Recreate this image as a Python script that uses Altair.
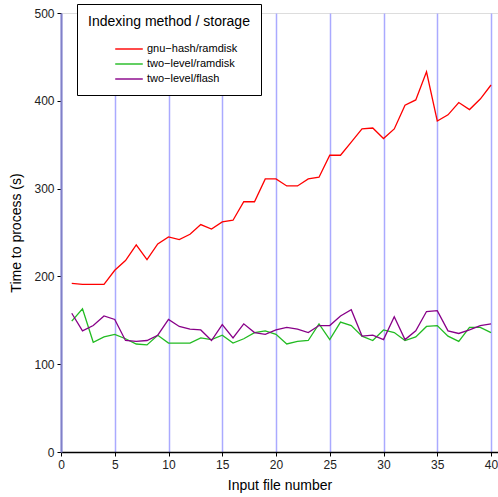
import altair as alt
import pandas as pd

x_values = list(range(1, 41))
gnu_hash_ramdisk = [192, 191, 191, 191, 207, 218, 236, 219, 237, 245,
                    242, 248, 259, 254, 262, 264, 285, 285, 311, 311,
                    303, 303, 311, 313, 338, 338, 353, 368, 369, 357,
                    368, 395, 401, 433, 377, 384, 398, 390, 402, 418]
two_level_ramdisk = [149, 163, 125, 131, 134, 129, 123, 122, 133, 124,
                     124, 124, 130, 128, 133, 124, 129, 136, 138, 134,
                     123, 126, 127, 146, 128, 148, 144, 132, 127, 139,
                     136, 127, 131, 143, 144, 132, 126, 142, 142, 136]
two_level_flash = [158, 138, 144, 155, 151, 127, 126, 127, 133, 151,
                   143, 140, 139, 127, 145, 130, 146, 136, 134, 139,
                   142, 140, 136, 144, 144, 155, 162, 132, 133, 128,
                   154, 128, 138, 160, 161, 138, 135, 139, 144, 146]
series_names = ["gnu\u2212hash/ramdisk", "two\u2212level/ramdisk", "two\u2212level/flash"]
series_colors = ["#ff0000", "#22bb22", "#880088"]
x_ticks = [0, 5, 10, 15, 20, 25, 30, 35, 40]
y_ticks = [0, 100, 200, 300, 400, 500]

rows = []
for name, vals in zip(series_names, [gnu_hash_ramdisk, two_level_ramdisk, two_level_flash]):
    for xv, yv in zip(x_values, vals):
        rows.append({"file": xv, "time": yv, "series": name})
df = pd.DataFrame(rows)

FONT = "Liberation Sans"

chart = alt.Chart(df).mark_line(strokeWidth=1.3, clip=True).encode(
    x=alt.X("file:Q", title="Input file number",
            scale=alt.Scale(domain=[0, 40.65], nice=False, zero=False),
            axis=alt.Axis(values=x_ticks, grid=True, gridColor="#aaaaff", gridWidth=1.5,
                          gridOpacity=1, domainColor="#000000", domainWidth=1.5,
                          tickColor="#000000", tickSize=4, labelFontSize=12,
                          labelColor="#222222", titleFontSize=14, titleFontWeight="normal",
                          titleColor="#000000", labelPadding=3, titlePadding=8,
                          labelFont=FONT, titleFont=FONT, labelFlush=False)),
    y=alt.Y("time:Q", title="Time to process (s)",
            scale=alt.Scale(domain=[0, 500], nice=False),
            axis=alt.Axis(values=y_ticks, grid=False, domainColor="#8080c8", domainWidth=2,
                          tickColor="#000000", tickSize=4, labelFontSize=12,
                          labelColor="#222222", titleFontSize=14, titleFontWeight="normal",
                          titleColor="#000000", labelPadding=3, titlePadding=10,
                          labelFont=FONT, titleFont=FONT)),
    color=alt.Color("series:N", sort=series_names,
                    scale=alt.Scale(domain=series_names, range=series_colors),
                    legend=alt.Legend(title="Indexing method / storage", orient="none",
                                      legendX=16, legendY=-9,
                                      strokeColor="#000000", fillColor="#ffffff",
                                      padding=11, titleFontSize=14, titleFontWeight=400,
                                      titleColor="#000000", titleFont=FONT,
                                      titleAnchor="middle", titlePadding=12,
                                      labelFontSize=11, labelColor="#000000", labelFont=FONT,
                                      symbolType="M-2,0H2", symbolSize=190,
                                      symbolStrokeWidth=2, symbolOpacity=0.7,
                                      symbolOffset=20, labelOffset=10, rowPadding=2)),
).properties(
    width=437, height=439,
    autosize=alt.AutoSizeParams(type="none"),
    padding={"left": 61, "top": 13, "right": 0, "bottom": 45},
).configure_view(stroke=None).configure(background="#ffffff")

chart.save("out.html", embed_options={"renderer": "svg", "actions": False})
